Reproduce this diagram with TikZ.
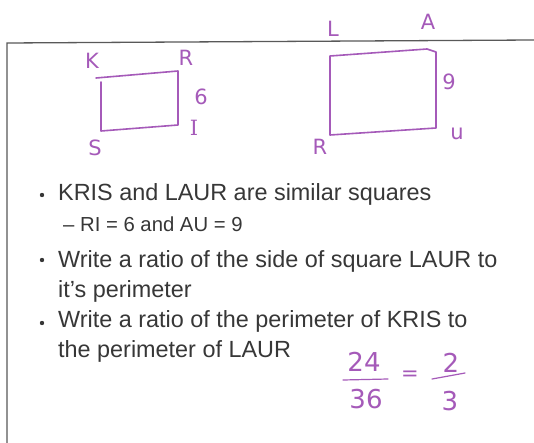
\documentclass[tikz,border=0pt]{standalone}
\usepackage{fontspec}
\setmainfont{Liberation Sans}
\newfontfamily\handfont{DejaVu Sans}
\newfontfamily\handseriffont{DejaVu Serif}
\usepackage{tikz}
\usetikzlibrary{positioning}
\definecolor{inkpurple}{RGB}{165,90,185}
\definecolor{slidegray}{RGB}{55,55,55}

\begin{document}
\begin{tikzpicture}[x=1pt, y=-1pt,
    pen/.style={draw=inkpurple, line width=1.6pt, line cap=round, line join=round},
    inkmark/.style={text=inkpurple, font=\handfont\fontsize{21}{21}\selectfont, inner sep=0pt},
    inkdigit/.style={inkmark, font=\handfont\fontsize{26}{26}\selectfont},
    bullettext/.style={anchor=base west, inner sep=0pt, text=slidegray, font=\fontsize{23.4}{23.4}\selectfont},
    subtext/.style={anchor=base west, inner sep=0pt, text=slidegray, font=\fontsize{20.3}{20.3}\selectfont}]
    \useasboundingbox (0,0) rectangle (534,443);
    \fill[white] (0,0) rectangle (534,443);

    % --- Slide frame ---
    \draw[gray!70!black, line width=1.3pt] (7,443) -- (7,43) -- (534,40);

    % --- Square KRIS (handwritten) ---
    \draw[pen] (96,78) -- (178,71) -- (178,125) -- (101,131) -- (101,82);
    \node[inkmark] (k) at (92,61) {K};
    \node[inkmark] (r1) at (186,58) {R};
    \node[inkmark] (six) at (201,97) {6};
    \node[inkmark, font=\handseriffont\fontsize{21}{21}\selectfont] (i) at (194,128) {I};
    \node[inkmark] (s) at (95,148) {S};

    % --- Square LAUR (handwritten) ---
    \draw[pen] (330,56) -- (427,49) -- (436,52) -- (436,128) -- (330,135) -- cycle;
    \node[inkmark] (l) at (333,29) {L};
    \node[inkmark] (a) at (428,22) {A};
    \node[inkmark] (nine) at (449,82) {9};
    \node[inkmark] (u) at (457,134) {u};
    \node[inkmark] (r2) at (320,147) {R};

    % --- Bullet points ---
    \foreach \y in {195,260,323}
        \fill[slidegray] (42,\y) circle (2.2);
    \node[bullettext] (b1) at (58,201) {KRIS and LAUR are similar squares};
    \node[subtext] (b1a) at (63,231) {-- RI = 6 and AU = 9};
    \node[bullettext] (b2) at (58,267) {Write a ratio of the side of square LAUR to};
    \node[bullettext] (b2b) at (58,297) {it’s perimeter};
    \node[bullettext] (b3) at (58,327) {Write a ratio of the perimeter of KRIS to};
    \node[bullettext] (b3b) at (58,357) {the perimeter of LAUR};

    % --- Handwritten answer ---
    \node[inkdigit] (num1) at (364,362) {24};
    \node[inkdigit] (den1) at (366,399) {36};
    \draw[pen, line width=1.2pt] (343,380) -- (388,379);
    \node[inkmark] (eq) at (410,376) {=};
    \node[inkdigit] (num2) at (451,363) {2};
    \node[inkdigit] (den2) at (450,401) {3};
    \draw[pen, line width=1.2pt] (432,379) -- (465,373);
\end{tikzpicture}
\end{document}
